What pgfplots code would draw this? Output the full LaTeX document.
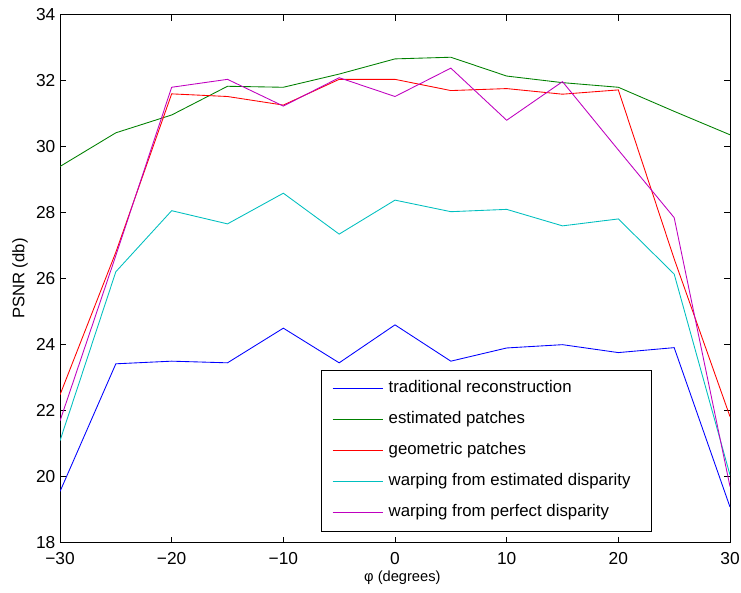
\documentclass[border=0pt]{standalone}
\usepackage{fontspec}
\setmainfont{Liberation Sans}
\usepackage{pgfplots}
\pgfplotsset{compat=1.18}

\definecolor{mblue}{rgb}{0,0,1}
\definecolor{mgreen}{rgb}{0,0.5,0}
\definecolor{mred}{rgb}{1,0,0}
\definecolor{mcyan}{rgb}{0,0.75,0.75}
\definecolor{mmag}{rgb}{0.75,0,0.75}

\pgfplotsset{mline/.style={line width=0.65pt,
  legend image code/.code={\draw[##1] (0pt,0pt) -- (37.5pt,0pt);}}}

\begin{document}
\begin{tikzpicture}
\begin{axis}[
  scale only axis,
  width=502.5pt, height=396pt,
  xmin=-30, xmax=30, ymin=18, ymax=34,
  xtick={-30,-20,...,30},
  xticklabels={−30,−20,−10,0,10,20,30},
  ytick={18,20,...,34},
  tick align=inside,
  major tick length=4.5pt,
  tick style={black, line width=0.6pt},
  axis line style={line width=0.75pt},
  tick label style={font=\fontsize{13}{15}\selectfont},
  xticklabel style={yshift=-7.5pt, text height=9pt, inner ysep=0pt},
  yticklabel style={text depth=0pt, inner ysep=0pt},
  /pgf/number format/assume math mode=true,
  xlabel={φ (degrees)},
  ylabel={PSNR (db)},
  xlabel style={font=\fontsize{11}{14}\selectfont, at={(axis description cs:0.511,-0.0669)}, anchor=center},
  ylabel style={font=\fontsize{12.5}{15}\selectfont, at={(axis description cs:-0.0597,0.5)}, anchor=center},
  legend cell align=left,
  legend style={at={(0.3896,0.3277)}, anchor=north west, draw=black, line width=0.75pt,
    font=\fontsize{12.6}{15}\selectfont, row sep=11.25pt, inner xsep=8pt, inner ysep=8pt,
    nodes={inner sep=0pt, text height=9pt, text depth=3pt},
    /tikz/every odd column/.append style={column sep=4.2pt}},
]
\addplot[mline, mblue] coordinates {(-30,19.55) (-25,23.42) (-20,23.5) (-15,23.45) (-10,24.5) (-5,23.45) (0,24.6) (5,23.5) (10,23.9) (15,24.0) (20,23.76) (25,23.91) (30,19.08)};
\addplot[mline, mgreen] coordinates {(-30,29.4) (-25,30.42) (-20,30.96) (-15,31.83) (-10,31.8) (-5,32.2) (0,32.66) (5,32.71) (10,32.14) (15,31.94) (20,31.8) (25,31.07) (30,30.36)};
\addplot[mline, mred] coordinates {(-30,22.48) (-25,26.8) (-20,31.6) (-15,31.52) (-10,31.26) (-5,32.04) (0,32.04) (5,31.7) (10,31.76) (15,31.59) (20,31.72) (25,26.6) (30,21.82)};
\addplot[mline, mcyan] coordinates {(-30,21.09) (-25,26.21) (-20,28.06) (-15,27.66) (-10,28.59) (-5,27.35) (0,28.38) (5,28.03) (10,28.1) (15,27.6) (20,27.81) (25,26.14) (30,20.05)};
\addplot[mline, mmag] coordinates {(-30,21.69) (-25,26.7) (-20,31.8) (-15,32.04) (-10,31.23) (-5,32.09) (0,31.52) (5,32.38) (10,30.8) (15,31.97) (20,29.9) (25,27.85) (30,19.7)};
\legend{traditional reconstruction, estimated patches, geometric patches, warping from estimated disparity\hspace*{7.75pt}\mbox{}, warping from perfect disparity}
\end{axis}
\pgfresetboundingbox
\path (-45pt,-37.7pt) rectangle (510.75pt,407pt);
\end{tikzpicture}
\end{document}
